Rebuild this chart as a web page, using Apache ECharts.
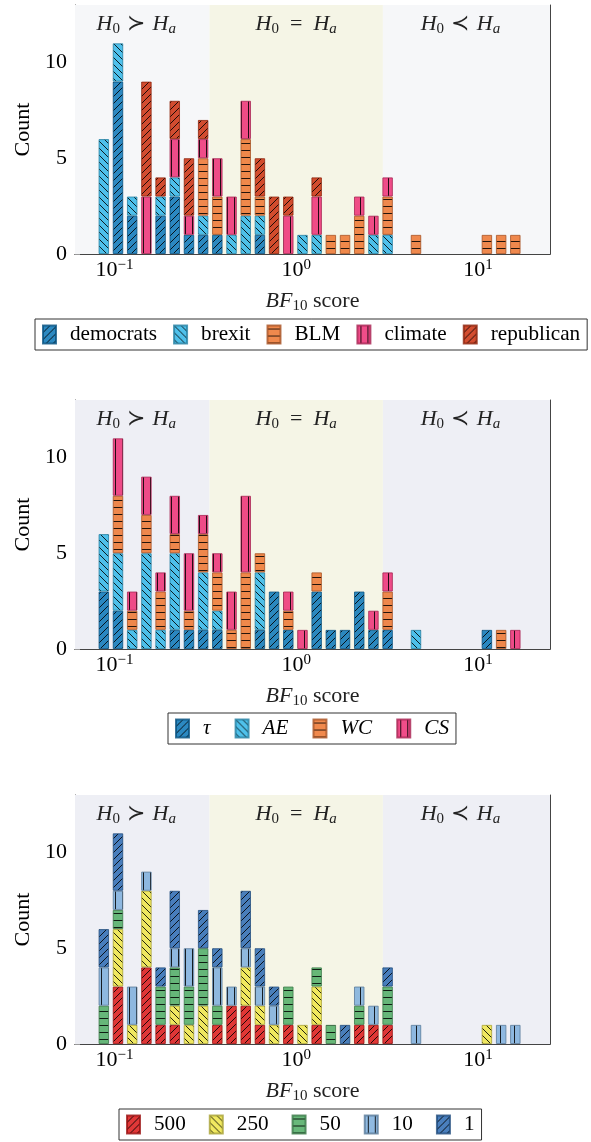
<!DOCTYPE html>
<html><head><meta charset="utf-8">
<script src="https://cdn.jsdelivr.net/npm/echarts@6/dist/echarts.min.js"></script>
<style>html,body{margin:0;padding:0;background:#fff}#c{width:591px;height:1142px}</style>
</head><body><div id="c"></div>
<script>
// ---------- data ----------
const binCenters = [0.08732,0.1045,0.1251,0.1498,0.1793,0.2146,0.2569,0.3075,0.3680,0.4406,
  0.5274,0.6313,0.7556,0.9045,1.083,1.296,1.551,1.857,2.223,2.661,
  3.185,3.813,4.564,5.463,6.539,7.827,9.369,11.21,13.43,16.07];

const democrats  = [0,9,2,0,2,3,1,1,1,0,0,1,0,0,0,0,0,0,0,0,0,0,0,0,0,0,0,0,0,0];
const brexit     = [6,2,1,0,1,1,0,1,0,1,2,1,0,0,1,1,0,0,0,1,1,0,0,0,0,0,0,0,0,0];
const blm        = [0,0,0,0,0,0,0,3,2,0,4,1,0,0,0,0,1,1,2,0,2,0,1,0,0,0,0,1,1,1];
const climate    = [0,0,0,3,0,2,1,1,2,2,2,0,0,2,0,2,0,0,1,1,1,0,0,0,0,0,0,0,0,0];
const republican = [0,0,0,6,1,2,3,1,0,0,0,2,3,1,0,1,0,0,0,0,0,0,0,0,0,0,0,0,0,0];

const tau = [3,2,0,0,0,1,1,1,1,0,0,1,3,1,0,3,1,1,3,1,1,0,0,0,0,0,0,1,0,0];
const ae  = [3,3,1,5,1,4,0,3,1,0,0,3,0,0,0,0,0,0,0,0,0,0,1,0,0,0,0,0,0,0];
const wc  = [0,3,1,2,2,1,1,2,2,1,4,1,0,1,0,1,0,0,0,0,2,0,0,0,0,0,0,0,1,0];
const cs  = [0,3,1,2,1,2,3,1,1,2,4,0,0,1,1,0,0,0,0,1,1,0,0,0,0,0,0,0,0,1];

const r500 = [0,3,0,4,1,1,0,0,1,2,2,1,0,1,0,1,0,0,1,1,1,0,0,0,0,0,0,0,0,0];
const r250 = [0,3,1,4,0,1,1,2,0,0,2,1,1,0,1,2,0,0,0,0,0,0,0,0,0,0,0,1,0,0];
const r50  = [2,1,0,0,2,2,2,3,1,0,0,0,0,2,0,1,1,0,1,0,2,0,0,0,0,0,0,0,0,0];
const r10  = [2,1,2,1,0,1,2,0,2,1,1,1,1,0,0,0,0,0,1,1,0,0,1,0,0,0,0,0,1,1];
const r1   = [2,3,0,0,1,3,0,2,1,0,3,2,1,0,0,0,0,1,0,0,1,0,0,0,0,0,0,0,0,0];

const xMin = 0.0606, xMax = 24.94;
const yMax = 13;
const yTicks = [0,5,10];
const xMajor = [0.1,1,10];
const xMinor = [0.07,0.08,0.09,0.2,0.3,0.4,0.5,0.6,0.7,0.8,0.9,2,3,4,5,6,7,8,9,20];
const thresholds = [1/3, 3];
const regionLabels = ['{i|H}{s|0}{r|\u2004≻\u2004}{i|H}{si|a}', '{i|H}{s|0}{r|\u2002=\u2002}{i|H}{si|a}', '{i|H}{s|0}{r|\u2004≺\u2004}{i|H}{si|a}'];
const regionOffsets = [-6, 0, -6];

// ---------- style ----------
const FONT = "'Liberation Serif','DejaVu Serif',serif";
const panels = [
  {names:['democrats','brexit','BLM','climate','republican'], vals:[democrats,brexit,blm,climate,republican],
   colors:['#0d77b8','#35b8e8','#ee7733','#ee3377','#cc3311'], hatch:['ne','nw','h','v','ne'],
   sideBg:'#f6f7f9', top:5, legendLeft:35, legendTop:319, italic:false, gap:16},
  {names:['τ','AE','WC','CS'], vals:[tau,ae,wc,cs],
   colors:['#0d77b8','#35b8e8','#ee7733','#ee3377'], hatch:['ne','nw','h','v'],
   sideBg:'#eeeff5', top:400, legendLeft:168, legendTop:713, italic:true, gap:24},
  {names:['500','250','50','10','1'], vals:[r500,r250,r50,r10,r1],
   colors:['#dd1a1a','#efe64a','#52ad66','#7fb0dc','#2f6cb3'], hatch:['ne','nw','h','v','ne'],
   sideBg:'#eeeff5', top:795, legendLeft:119, legendTop:1109, italic:false, gap:23}
];
const midBg = '#f5f5e6';

function rgb(h){h=h.replace('#','');return [0,2,4].map(i=>parseInt(h.substr(i,2),16));}
function darker(h,f){const c=rgb(h);return 'rgba('+c.map(v=>Math.round(v*(1-f))).join(',')+',0.8)';}
function makePattern(hex, kind){
  const s = 7;
  const cv = document.createElement('canvas'); cv.width = s; cv.height = s;
  const g = cv.getContext('2d');
  const c = rgb(hex);
  g.fillStyle = 'rgba('+c.join(',')+',0.87)';
  g.fillRect(0,0,s,s);
  g.strokeStyle = 'rgba(0,0,0,0.85)'; g.lineWidth = 1;
  g.beginPath();
  if (kind==='h'){ g.moveTo(0,3.5); g.lineTo(s,3.5); }
  else if (kind==='v'){ g.moveTo(3.5,0); g.lineTo(3.5,s); }
  else if (kind==='ne'){ g.moveTo(0,s); g.lineTo(s,0); g.moveTo(-1,1); g.lineTo(1,-1); g.moveTo(s-1,s+1); g.lineTo(s+1,s-1); }
  else { g.moveTo(0,0); g.lineTo(s,s); g.moveTo(-1,s-1); g.lineTo(1,s+1); g.moveTo(s-1,-1); g.lineTo(s+1,1); }
  g.stroke();
  return {image: cv, repeat: 'repeat'};
}

const FS = 22;
const rich = {
  i:{fontFamily:FONT,fontStyle:'italic',fontSize:FS,color:'#222',lineHeight:26},
  r:{fontFamily:FONT,fontSize:FS,color:'#222',lineHeight:26},
  s:{fontFamily:FONT,fontSize:15,color:'#222',lineHeight:14,verticalAlign:'bottom'},
  si:{fontFamily:FONT,fontStyle:'italic',fontSize:15,color:'#222',lineHeight:14,verticalAlign:'bottom'},
  b:{fontFamily:FONT,fontSize:FS,color:'#000',lineHeight:24},
  sup:{fontFamily:FONT,fontSize:15,color:'#000',lineHeight:14,verticalAlign:'top'}
};

const grid=[], xAxis=[], yAxis=[], series=[], legend=[];
panels.forEach((p,k)=>{
  grid.push({left:75, right:41, top:p.top, height:249, containLabel:false});
  xAxis.push({type:'log', gridIndex:k, min:xMin, max:xMax, position:'bottom',
    axisLine:{show:true,lineStyle:{color:'#444',width:1}},
    axisTick:{show:true,inside:true,length:4,customValues:xMinor.concat(xMajor),lineStyle:{color:'#999'}},
    axisLabel:{show:true,margin:4,customValues:xMajor,rich:rich,
      formatter:v=>{const e=Math.round(Math.log10(v));return '{b|10}{sup|'+(e<0?'−'+(-e):e)+'}';}},
    splitLine:{show:false},
    name:'{i|BF}{s|10}{r| score}', nameLocation:'middle', nameGap:34,
    nameTextStyle:{rich:rich}});
  xAxis.push({type:'log', gridIndex:k, min:xMin, max:xMax, position:'top',
    axisLine:{show:true,lineStyle:{color:'#444',width:1}},
    axisTick:{show:false}, axisLabel:{show:false}, splitLine:{show:false}});
  yAxis.push({type:'value', gridIndex:k, min:0, max:yMax, position:'left',
    axisLine:{show:true,lineStyle:{color:'#444',width:1}},
    axisTick:{show:true,inside:true,length:5,customValues:yTicks,lineStyle:{color:'#999'}},
    axisLabel:{show:true,margin:8,customValues:yTicks,fontFamily:FONT,fontSize:FS,color:'#000'},
    splitLine:{show:false},
    name:'Count', nameLocation:'middle', nameGap:38, nameRotate:90,
    nameTextStyle:{fontFamily:FONT,fontSize:FS,color:'#000'}});
  yAxis.push({type:'value', gridIndex:k, min:0, max:yMax, position:'right',
    axisLine:{show:true,lineStyle:{color:'#444',width:1}},
    axisTick:{show:false}, axisLabel:{show:false}, splitLine:{show:false}});
  p.names.forEach((nm,j)=>{
    // dimension 0 = count (stacked), dimension 1 = BF value (log x axis)
    const s = {
      type:'bar', name:nm, xAxisIndex:2*k, yAxisIndex:2*k, stack:'p'+k,
      barWidth:10.5,
      dimensions:['count','bf'],
      encode:{x:'bf', y:'count'},
      data: binCenters.map((x,i)=>[p.vals[j][i] ? p.vals[j][i] : null, x]),
      itemStyle:{color:makePattern(p.colors[j],p.hatch[j]), borderColor:darker(p.colors[j],0.3), borderWidth:1},
      emphasis:{disabled:true}, z:3
    };
    if (j===0){
      const bounds=[xMin,thresholds[0],thresholds[1],xMax];
      const bgs=[p.sideBg,midBg,p.sideBg];
      s.markArea = {silent:true, z:1,
        label:{show:true, position:'insideTop', distance:6, rich:rich},
        data:[0,1,2].map(r=>[
          {xAxis:bounds[r], itemStyle:{color:bgs[r]}, label:{formatter:regionLabels[r], offset:[regionOffsets[r],0]}},
          {xAxis:bounds[r+1]}
        ])};
    }
    series.push(s);
  });
  legend.push({data:p.names, left:p.legendLeft, top:p.legendTop, width:570, orient:'horizontal',
    icon:'rect', itemWidth:13, itemHeight:18, itemGap:p.gap, selectedMode:false,
    borderColor:'#333', borderWidth:1, borderRadius:0, padding:[5,7],
    textStyle:{fontFamily:FONT,fontSize:21.2,color:'#000',fontStyle:p.italic?'italic':'normal',padding:[0,0,0,9]}});
});

const chart = echarts.init(document.getElementById('c'), null, {renderer:'canvas'});
chart.setOption({animation:false, backgroundColor:'#fff', grid, xAxis, yAxis, series, legend, tooltip:{show:false}});
</script></body></html>
